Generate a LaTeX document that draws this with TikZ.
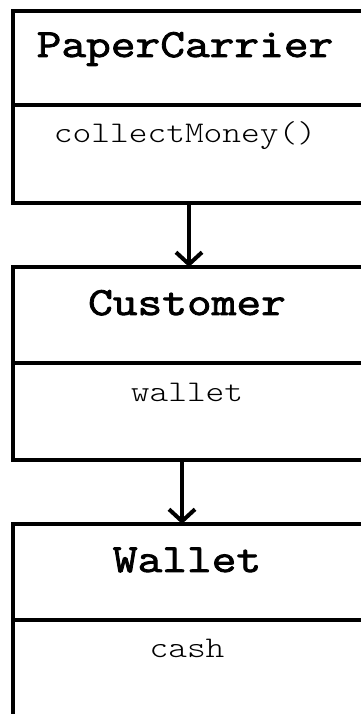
\documentclass[tikz,border=0pt]{standalone}
\usepackage{fontspec}
\newfontfamily\classnamefont[FakeBold=2.2,FakeStretch=1.2]{Latin Modern Mono}
\newfontfamily\memberfont[FakeStretch=1.19]{Latin Modern Mono Light}
\usetikzlibrary{arrows.meta}
\begin{document}
\begin{tikzpicture}[x=1pt,y=1pt,
  classbox/.style={draw, line width=4pt, minimum width=354pt, inner sep=0pt, outer sep=0pt},
  divider/.style={line width=4pt},
  classname/.style={anchor=base, inner sep=0pt, font=\classnamefont\fontsize{40}{40}\selectfont},
  member/.style={anchor=base, inner sep=0pt, font=\memberfont\fontsize{30}{30}\selectfont},
  assoc/.style={line width=4pt, -{Straight Barb[length=12pt,width=26pt,line width=4pt]}}]
\useasboundingbox (0,0) rectangle (361,714);
\begin{scope}
\clip (0,0) rectangle (361,714);
% class boxes
\node[classbox, minimum height=192pt, anchor=north west] (pc) at (12.5,703) {};
\node[classbox, minimum height=193pt, anchor=north west] (cu) at (12.5,447) {};
\node[classbox, minimum height=210pt, anchor=north west] (wa) at (12.5,190) {};
% compartment dividers
\draw[divider] (12.5,609) coordinate (pcd) -- (pcd -| pc.east);
\draw[divider] (12.5,351) coordinate (cud) -- (cud -| cu.east);
\draw[divider] (12.5,94) coordinate (wad) -- (wad -| wa.east);
% names and members
\node[classname] (pcn) at (185,657) {PaperCarrier};
\node[member] (pcm) at (185,571) {collectMoney()};
\node[classname] (cun) at (187,399) {Customer};
\node[member] (cum) at (187,312) {wallet};
\node[classname] (wan) at (187,142) {Wallet};
\node[member] (wam) at (187,56) {cash};
% associations
\draw[assoc] ([xshift=-0.5pt]pc.south) -- ([xshift=-0.5pt]pc.south |- cu.north);
\draw[assoc] ([xshift=-7.5pt]cu.south) -- ([xshift=-7.5pt]cu.south |- wa.north);
\end{scope}
\end{tikzpicture}
\end{document}
